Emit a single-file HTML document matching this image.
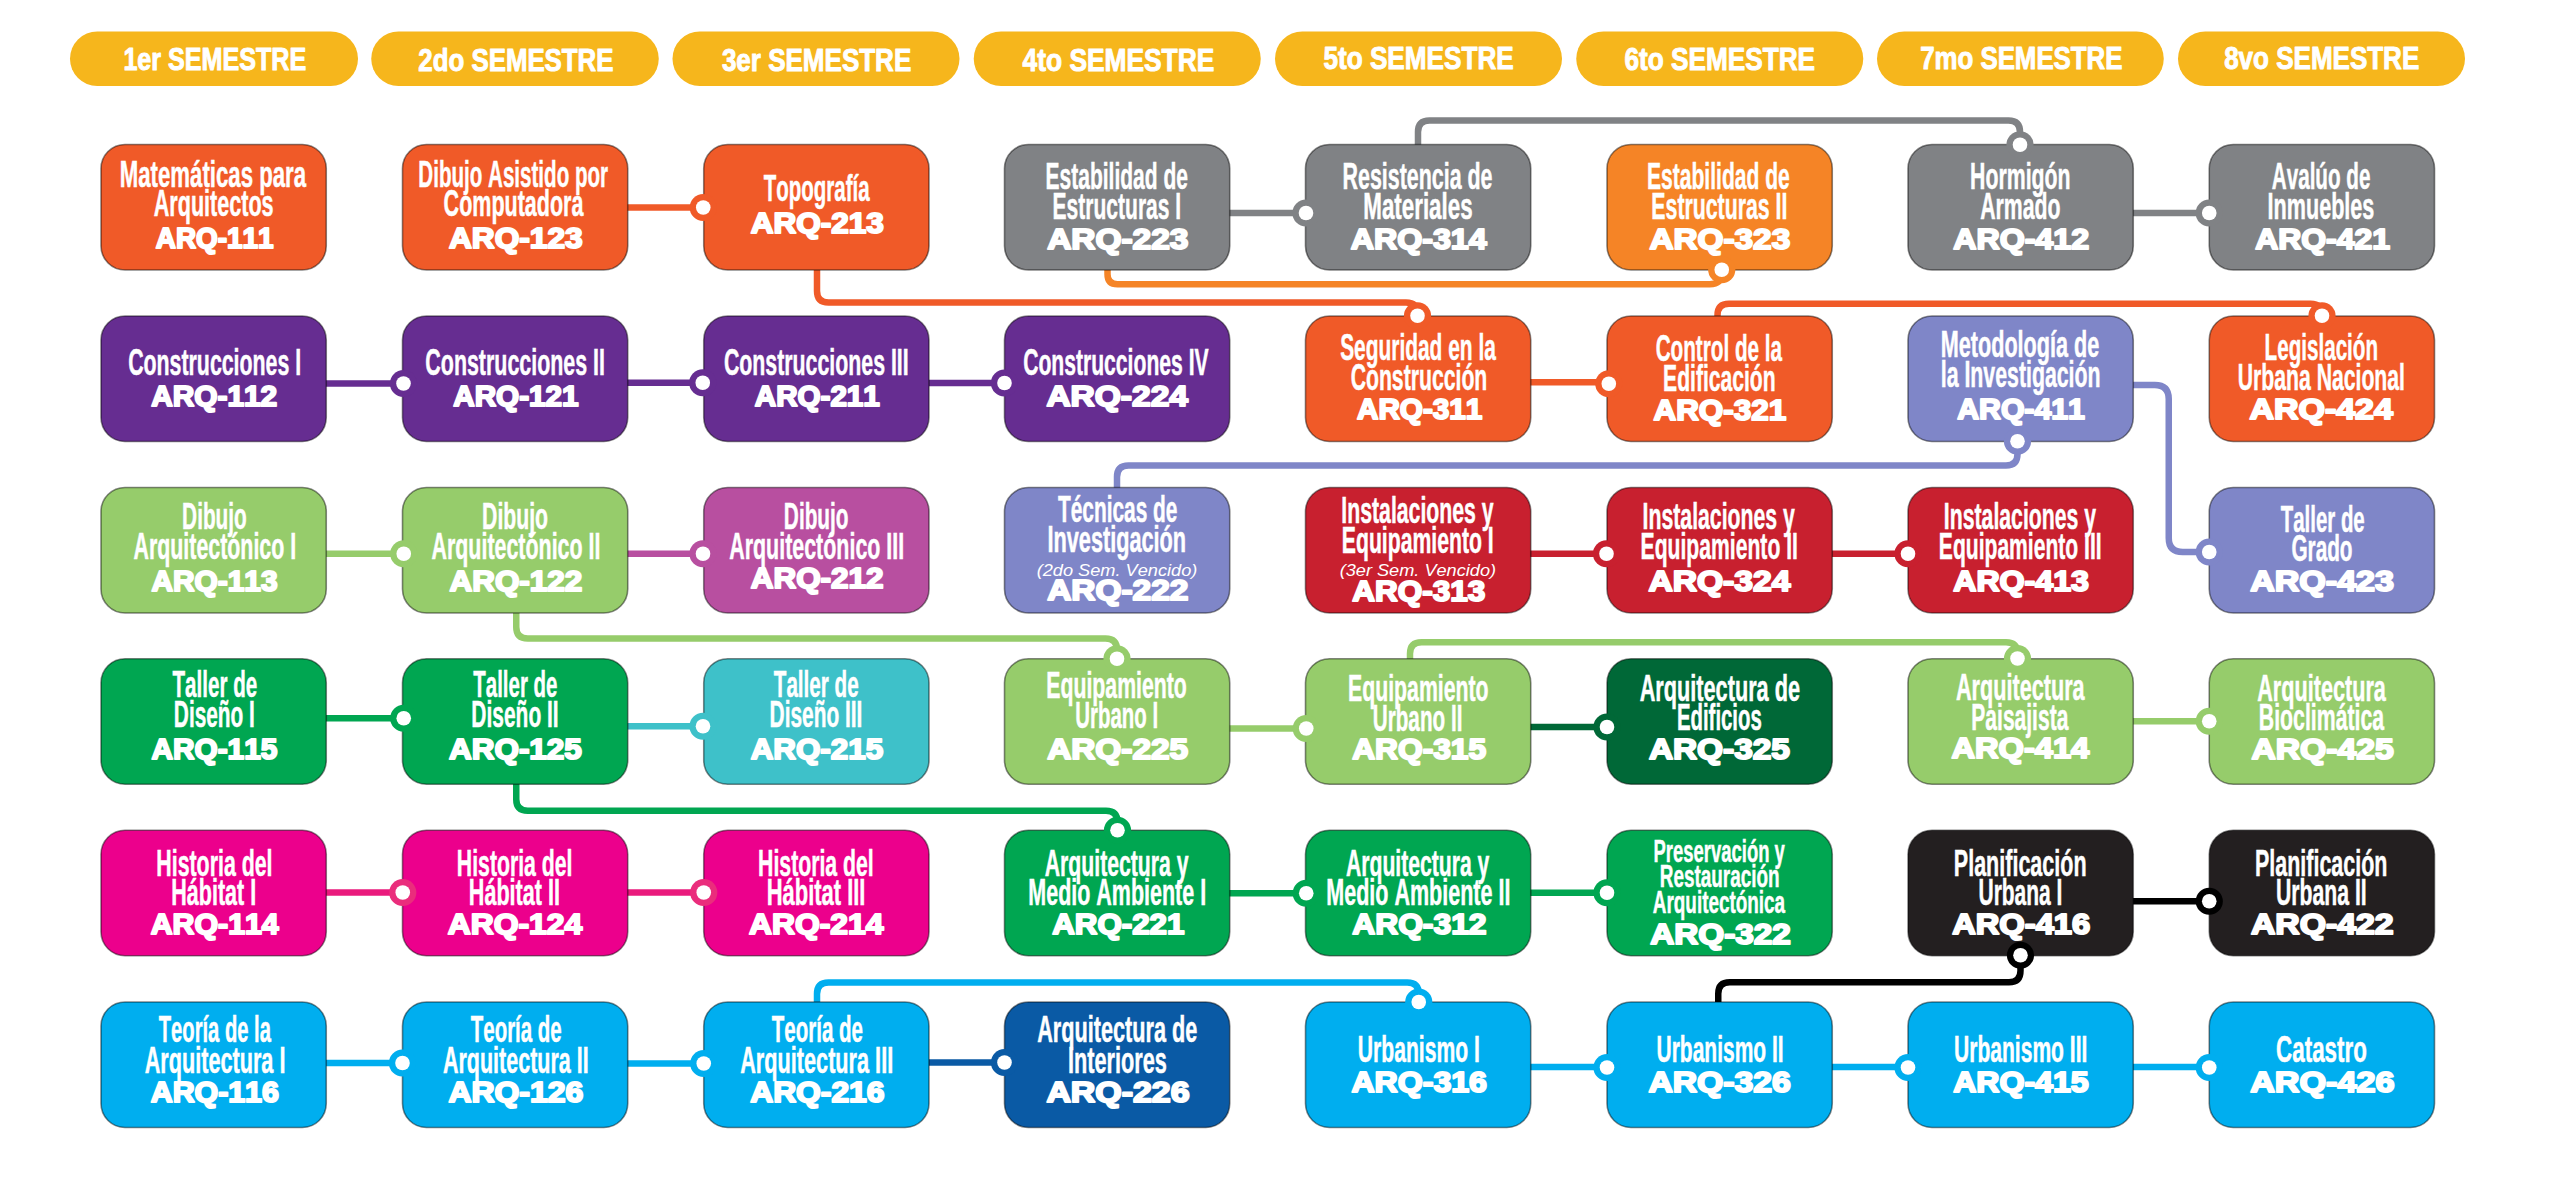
<!DOCTYPE html>
<html lang="es"><head><meta charset="utf-8"><title>Malla curricular Arquitectura</title>
<style>html,body{margin:0;padding:0;background:#fff}body{width:2560px;height:1186px;overflow:hidden}svg{display:block}text{font-family:"Liberation Sans",Arial,sans-serif;fill:#fff;font-kerning:none}.n{font-weight:700;font-size:36.3px;stroke:#fff;stroke-width:0.5px}.s{font-weight:700;font-size:31.8px;stroke:#fff;stroke-width:0.5px}.c{font-weight:700;font-size:28.9px;stroke:#fff;stroke-width:2.0px;stroke-linejoin:round}.i{font-style:italic;font-size:17.4px}.h{font-weight:700;font-size:31.6px;stroke:#fff;stroke-width:1.0px;stroke-linejoin:round}.ln{fill:none;stroke-width:6.5;stroke-linecap:butt;stroke-linejoin:round}.bx{stroke:#000;stroke-opacity:.46;stroke-width:1.6}</style></head><body>
<svg width="2560" height="1186" viewBox="0 0 2560 1186">
<rect width="2560" height="1186" fill="#fff"/>
<rect x="70" y="31.5" width="288" height="54.5" rx="27.25" fill="#f6b61c"/>
<text class="h" x="123.42" y="70.00" textLength="182.81" lengthAdjust="spacingAndGlyphs">1er SEMESTRE</text>
<rect x="371.25" y="31.5" width="287.5" height="54.5" rx="27.25" fill="#f6b61c"/>
<text class="h" x="418.35" y="71.00" textLength="195.15" lengthAdjust="spacingAndGlyphs">2do SEMESTRE</text>
<rect x="672.5" y="31.5" width="287.0" height="54.5" rx="27.25" fill="#f6b61c"/>
<text class="h" x="721.90" y="71.00" textLength="189.36" lengthAdjust="spacingAndGlyphs">3er SEMESTRE</text>
<rect x="973.75" y="31.5" width="287.0" height="54.5" rx="27.25" fill="#f6b61c"/>
<text class="h" x="1022.60" y="71.00" textLength="191.68" lengthAdjust="spacingAndGlyphs">4to SEMESTRE</text>
<rect x="1275" y="31.5" width="287" height="54.5" rx="27.25" fill="#f6b61c"/>
<text class="h" x="1323.45" y="69.00" textLength="190.33" lengthAdjust="spacingAndGlyphs">5to SEMESTRE</text>
<rect x="1576.25" y="31.5" width="287.0" height="54.5" rx="27.25" fill="#f6b61c"/>
<text class="h" x="1624.54" y="69.50" textLength="190.48" lengthAdjust="spacingAndGlyphs">6to SEMESTRE</text>
<rect x="1877" y="31.5" width="286.75" height="54.5" rx="27.25" fill="#f6b61c"/>
<text class="h" x="1920.14" y="69.00" textLength="202.37" lengthAdjust="spacingAndGlyphs">7mo SEMESTRE</text>
<rect x="2178" y="31.5" width="287" height="54.5" rx="27.25" fill="#f6b61c"/>
<text class="h" x="2224.17" y="69.00" textLength="195.09" lengthAdjust="spacingAndGlyphs">8vo SEMESTRE</text>
<path class="ln" stroke="#f05a28" d="M625.75,207.5H703.75"/>
<path class="ln" stroke="#808285" d="M1227.75,213H1305.5"/>
<path class="ln" stroke="#808285" d="M2131.25,213H2209.25"/>
<path class="ln" stroke="#662d91" d="M324.25,383.5H402.5"/>
<path class="ln" stroke="#662d91" d="M625.75,382.75H703.75"/>
<path class="ln" stroke="#662d91" d="M927.0,383H1004.5"/>
<path class="ln" stroke="#f05a28" d="M1528.75,382.25H1607"/>
<path class="ln" stroke="#96cc6b" d="M324.25,553.75H402.5"/>
<path class="ln" stroke="#b84fa0" d="M625.75,553.75H703.75"/>
<path class="ln" stroke="#c8202f" d="M1528.75,553.75H1607"/>
<path class="ln" stroke="#c8202f" d="M1830.25,553.75H1908"/>
<path class="ln" stroke="#00a651" d="M324.25,718.25H402.5"/>
<path class="ln" stroke="#3ec1c9" d="M625.75,726.25H703.75"/>
<path class="ln" stroke="#96cc6b" d="M1227.75,728.5H1305.5"/>
<path class="ln" stroke="#006837" d="M1528.75,727H1607"/>
<path class="ln" stroke="#96cc6b" d="M2131.25,721.25H2209.25"/>
<path class="ln" stroke="#ea1a7d" d="M324.25,892.5H402.5"/>
<path class="ln" stroke="#ea1a7d" d="M625.75,892.5H703.75"/>
<path class="ln" stroke="#00a651" d="M1227.75,893.25H1305.5"/>
<path class="ln" stroke="#00a651" d="M1528.75,892.75H1607"/>
<path class="ln" stroke="#000000" d="M2131.25,901.25H2209.25"/>
<path class="ln" stroke="#00aeef" d="M324.25,1063H402.5"/>
<path class="ln" stroke="#00aeef" d="M625.75,1063.5H703.75"/>
<path class="ln" stroke="#0a5aa5" d="M927.0,1062.5H1004.5"/>
<path class="ln" stroke="#00aeef" d="M1528.75,1067H1607"/>
<path class="ln" stroke="#00aeef" d="M1830.25,1067H1908"/>
<path class="ln" stroke="#00aeef" d="M2131.25,1067H2209.25"/>
<path class="ln" stroke="#f05a28" d="M817,266.5V291.0Q817,302.5 828.5,302.5H1406.0Q1417.5,302.5 1417.5,314.0V315.75"/>
<path class="ln" stroke="#f58426" d="M1107.5,266V274.25Q1107.5,284.25 1117.5,284.25H1709.75Q1721.75,284.25 1721.75,272.25V269.5"/>
<path class="ln" stroke="#808285" d="M1418,147.5V132.0Q1418,120.5 1429.5,120.5H2008.5Q2020,120.5 2020,132.0V144.75"/>
<path class="ln" stroke="#f05a28" d="M1717.5,319V315.25Q1717.5,303.75 1729.0,303.75H2310.5Q2322,303.75 2322,315.25V315.75"/>
<path class="ln" stroke="#7f86c8" d="M1117,490.5V477.0Q1117,465.5 1128.5,465.5H2006.0Q2017.5,465.5 2017.5,454.0V441.25"/>
<path class="ln" stroke="#7f86c8" d="M2130,385H2154.75Q2168.75,385 2168.75,399V538Q2168.75,552 2182.75,552H2209.25"/>
<path class="ln" stroke="#96cc6b" d="M516.25,609.5V627.1Q516.25,638.6 527.75,638.6H1105.5Q1117,638.6 1117,650.1V658.75"/>
<path class="ln" stroke="#00a651" d="M516.25,781.25V799.25Q516.25,810.75 527.75,810.75H1106.0Q1117.5,810.75 1117.5,822.25V830.25"/>
<path class="ln" stroke="#96cc6b" d="M1410,662V653.75Q1410,642.25 1421.5,642.25H2006.0Q2017.5,642.25 2017.5,653.75V658.5"/>
<path class="ln" stroke="#000000" d="M1718.25,1005V993.75Q1718.25,982.25 1729.75,982.25H2009.0Q2020.5,982.25 2020.5,970.75V955.25"/>
<path class="ln" stroke="#00aeef" d="M817,1005V994.0Q817,982.5 828.5,982.5H1407.25Q1418.75,982.5 1418.75,994.0V1002"/>
<rect class="bx" x="101" y="144.5" width="225.25" height="125.5" rx="24" fill="#f05a28"/>
<rect class="bx" x="402.5" y="144.5" width="225.25" height="125.5" rx="24" fill="#f05a28"/>
<rect class="bx" x="703.75" y="144.5" width="225.25" height="125.5" rx="24" fill="#f05a28"/>
<rect class="bx" x="1004.5" y="144.5" width="225.25" height="125.5" rx="24" fill="#808285"/>
<rect class="bx" x="1305.5" y="144.5" width="225.25" height="125.5" rx="24" fill="#808285"/>
<rect class="bx" x="1607" y="144.5" width="225.25" height="125.5" rx="24" fill="#f58426"/>
<rect class="bx" x="1908" y="144.5" width="225.25" height="125.5" rx="24" fill="#808285"/>
<rect class="bx" x="2209.25" y="144.5" width="225.25" height="125.5" rx="24" fill="#808285"/>
<rect class="bx" x="101" y="316" width="225.25" height="125.5" rx="24" fill="#662d91"/>
<rect class="bx" x="402.5" y="316" width="225.25" height="125.5" rx="24" fill="#662d91"/>
<rect class="bx" x="703.75" y="316" width="225.25" height="125.5" rx="24" fill="#662d91"/>
<rect class="bx" x="1004.5" y="316" width="225.25" height="125.5" rx="24" fill="#662d91"/>
<rect class="bx" x="1305.5" y="316" width="225.25" height="125.5" rx="24" fill="#f05a28"/>
<rect class="bx" x="1607" y="316" width="225.25" height="125.5" rx="24" fill="#f05a28"/>
<rect class="bx" x="1908" y="316" width="225.25" height="125.5" rx="24" fill="#7f86c8"/>
<rect class="bx" x="2209.25" y="316" width="225.25" height="125.5" rx="24" fill="#f05a28"/>
<rect class="bx" x="101" y="487.5" width="225.25" height="125.5" rx="24" fill="#96cc6b"/>
<rect class="bx" x="402.5" y="487.5" width="225.25" height="125.5" rx="24" fill="#96cc6b"/>
<rect class="bx" x="703.75" y="487.5" width="225.25" height="125.5" rx="24" fill="#b84fa0"/>
<rect class="bx" x="1004.5" y="487.5" width="225.25" height="125.5" rx="24" fill="#7f86c8"/>
<rect class="bx" x="1305.5" y="487.5" width="225.25" height="125.5" rx="24" fill="#c8202f"/>
<rect class="bx" x="1607" y="487.5" width="225.25" height="125.5" rx="24" fill="#c8202f"/>
<rect class="bx" x="1908" y="487.5" width="225.25" height="125.5" rx="24" fill="#c8202f"/>
<rect class="bx" x="2209.25" y="487.5" width="225.25" height="125.5" rx="24" fill="#7f86c8"/>
<rect class="bx" x="101" y="658.75" width="225.25" height="125.5" rx="24" fill="#00a651"/>
<rect class="bx" x="402.5" y="658.75" width="225.25" height="125.5" rx="24" fill="#00a651"/>
<rect class="bx" x="703.75" y="658.75" width="225.25" height="125.5" rx="24" fill="#3ec1c9"/>
<rect class="bx" x="1004.5" y="658.75" width="225.25" height="125.5" rx="24" fill="#96cc6b"/>
<rect class="bx" x="1305.5" y="658.75" width="225.25" height="125.5" rx="24" fill="#96cc6b"/>
<rect class="bx" x="1607" y="658.75" width="225.25" height="125.5" rx="24" fill="#006837"/>
<rect class="bx" x="1908" y="658.75" width="225.25" height="125.5" rx="24" fill="#96cc6b"/>
<rect class="bx" x="2209.25" y="658.75" width="225.25" height="125.5" rx="24" fill="#96cc6b"/>
<rect class="bx" x="101" y="830.25" width="225.25" height="125.5" rx="24" fill="#ec008c"/>
<rect class="bx" x="402.5" y="830.25" width="225.25" height="125.5" rx="24" fill="#ec008c"/>
<rect class="bx" x="703.75" y="830.25" width="225.25" height="125.5" rx="24" fill="#ec008c"/>
<rect class="bx" x="1004.5" y="830.25" width="225.25" height="125.5" rx="24" fill="#00a651"/>
<rect class="bx" x="1305.5" y="830.25" width="225.25" height="125.5" rx="24" fill="#00a651"/>
<rect class="bx" x="1607" y="830.25" width="225.25" height="125.5" rx="24" fill="#00a651"/>
<rect class="bx" x="1908" y="830.25" width="225.25" height="125.5" rx="24" fill="#231f20"/>
<rect class="bx" x="2209.25" y="830.25" width="225.25" height="125.5" rx="24" fill="#231f20"/>
<rect class="bx" x="101" y="1002" width="225.25" height="125.5" rx="24" fill="#00aeef"/>
<rect class="bx" x="402.5" y="1002" width="225.25" height="125.5" rx="24" fill="#00aeef"/>
<rect class="bx" x="703.75" y="1002" width="225.25" height="125.5" rx="24" fill="#00aeef"/>
<rect class="bx" x="1004.5" y="1002" width="225.25" height="125.5" rx="24" fill="#0a5aa5"/>
<rect class="bx" x="1305.5" y="1002" width="225.25" height="125.5" rx="24" fill="#00aeef"/>
<rect class="bx" x="1607" y="1002" width="225.25" height="125.5" rx="24" fill="#00aeef"/>
<rect class="bx" x="1908" y="1002" width="225.25" height="125.5" rx="24" fill="#00aeef"/>
<rect class="bx" x="2209.25" y="1002" width="225.25" height="125.5" rx="24" fill="#00aeef"/>
<circle cx="703.25" cy="207.5" r="13.6" fill="#f05a28"/><circle cx="703.25" cy="207.5" r="7.3" fill="#fff"/>
<circle cx="1306" cy="213" r="13.6" fill="#808285"/><circle cx="1306" cy="213" r="7.3" fill="#fff"/>
<circle cx="2209.25" cy="213" r="13.6" fill="#808285"/><circle cx="2209.25" cy="213" r="7.3" fill="#fff"/>
<circle cx="403.5" cy="383.5" r="13.6" fill="#662d91"/><circle cx="403.5" cy="383.5" r="7.3" fill="#fff"/>
<circle cx="702.75" cy="382.75" r="13.6" fill="#662d91"/><circle cx="702.75" cy="382.75" r="7.3" fill="#fff"/>
<circle cx="1004.5" cy="383" r="13.6" fill="#662d91"/><circle cx="1004.5" cy="383" r="7.3" fill="#fff"/>
<circle cx="1608.8" cy="383.75" r="13.6" fill="#f05a28"/><circle cx="1608.8" cy="383.75" r="7.3" fill="#fff"/>
<circle cx="403.75" cy="553.75" r="13.6" fill="#96cc6b"/><circle cx="403.75" cy="553.75" r="7.3" fill="#fff"/>
<circle cx="703" cy="553.75" r="13.6" fill="#b84fa0"/><circle cx="703" cy="553.75" r="7.3" fill="#fff"/>
<circle cx="1606.5" cy="553.75" r="13.6" fill="#c8202f"/><circle cx="1606.5" cy="553.75" r="7.3" fill="#fff"/>
<circle cx="1908" cy="553.75" r="13.6" fill="#c8202f"/><circle cx="1908" cy="553.75" r="7.3" fill="#fff"/>
<circle cx="403.75" cy="718.25" r="13.6" fill="#00a651"/><circle cx="403.75" cy="718.25" r="7.3" fill="#fff"/>
<circle cx="703" cy="726.25" r="13.6" fill="#3ec1c9"/><circle cx="703" cy="726.25" r="7.3" fill="#fff"/>
<circle cx="1306.25" cy="728.5" r="13.6" fill="#96cc6b"/><circle cx="1306.25" cy="728.5" r="7.3" fill="#fff"/>
<circle cx="1607" cy="727" r="13.6" fill="#006837"/><circle cx="1607" cy="727" r="7.3" fill="#fff"/>
<circle cx="2209.25" cy="721.25" r="13.6" fill="#96cc6b"/><circle cx="2209.25" cy="721.25" r="7.3" fill="#fff"/>
<circle cx="402.75" cy="892.5" r="13.6" fill="#ea2d7c"/><circle cx="402.75" cy="892.5" r="7.3" fill="#fff"/>
<circle cx="703.75" cy="892.5" r="13.6" fill="#ea2d7c"/><circle cx="703.75" cy="892.5" r="7.3" fill="#fff"/>
<circle cx="1306.25" cy="893.25" r="13.6" fill="#00a651"/><circle cx="1306.25" cy="893.25" r="7.3" fill="#fff"/>
<circle cx="1607" cy="892.75" r="13.6" fill="#00a651"/><circle cx="1607" cy="892.75" r="7.3" fill="#fff"/>
<circle cx="2209.25" cy="901.25" r="13.6" fill="#000000"/><circle cx="2209.25" cy="901.25" r="7.3" fill="#fff"/>
<circle cx="402.5" cy="1063" r="13.6" fill="#00aeef"/><circle cx="402.5" cy="1063" r="7.3" fill="#fff"/>
<circle cx="703.75" cy="1063.5" r="13.6" fill="#00aeef"/><circle cx="703.75" cy="1063.5" r="7.3" fill="#fff"/>
<circle cx="1004.5" cy="1062.5" r="13.6" fill="#0a5aa5"/><circle cx="1004.5" cy="1062.5" r="7.3" fill="#fff"/>
<circle cx="1607" cy="1067.5" r="13.6" fill="#00aeef"/><circle cx="1607" cy="1067.5" r="7.3" fill="#fff"/>
<circle cx="1908" cy="1067.5" r="13.6" fill="#00aeef"/><circle cx="1908" cy="1067.5" r="7.3" fill="#fff"/>
<circle cx="2209.25" cy="1067.5" r="13.6" fill="#00aeef"/><circle cx="2209.25" cy="1067.5" r="7.3" fill="#fff"/>
<circle cx="1417.5" cy="315.75" r="13.6" fill="#f05a28"/><circle cx="1417.5" cy="315.75" r="7.3" fill="#fff"/>
<circle cx="1721.75" cy="269.75" r="13.6" fill="#f58426"/><circle cx="1721.75" cy="269.75" r="7.3" fill="#fff"/>
<circle cx="2020" cy="144.75" r="13.6" fill="#808285"/><circle cx="2020" cy="144.75" r="7.3" fill="#fff"/>
<circle cx="2322" cy="315.75" r="13.6" fill="#f05a28"/><circle cx="2322" cy="315.75" r="7.3" fill="#fff"/>
<circle cx="2017.5" cy="441.25" r="13.6" fill="#7f86c8"/><circle cx="2017.5" cy="441.25" r="7.3" fill="#fff"/>
<circle cx="2209.25" cy="552" r="13.6" fill="#7f86c8"/><circle cx="2209.25" cy="552" r="7.3" fill="#fff"/>
<circle cx="1117" cy="658.75" r="13.6" fill="#96cc6b"/><circle cx="1117" cy="658.75" r="7.3" fill="#fff"/>
<circle cx="1117.5" cy="830.25" r="13.6" fill="#00a651"/><circle cx="1117.5" cy="830.25" r="7.3" fill="#fff"/>
<circle cx="2017.5" cy="658.5" r="13.6" fill="#96cc6b"/><circle cx="2017.5" cy="658.5" r="7.3" fill="#fff"/>
<circle cx="2020.5" cy="955.25" r="13.6" fill="#000000"/><circle cx="2020.5" cy="955.25" r="7.3" fill="#fff"/>
<circle cx="1418.75" cy="1002" r="13.6" fill="#00aeef"/><circle cx="1418.75" cy="1002" r="7.3" fill="#fff"/>
<text class="n" x="119.76" y="186.75" textLength="186.34" lengthAdjust="spacingAndGlyphs">Matemáticas para</text>
<text class="n" x="153.71" y="215.75" textLength="119.92" lengthAdjust="spacingAndGlyphs">Arquitectos</text>
<text class="c" x="155.81" y="248.25" textLength="117.72" lengthAdjust="spacingAndGlyphs">ARQ-111</text>
<text class="n" x="418.37" y="186.75" textLength="189.69" lengthAdjust="spacingAndGlyphs">Dibujo Asistido por</text>
<text class="n" x="443.62" y="216.00" textLength="139.75" lengthAdjust="spacingAndGlyphs">Computadora</text>
<text class="c" x="448.96" y="248.25" textLength="133.68" lengthAdjust="spacingAndGlyphs">ARQ-123</text>
<text class="n" x="763.77" y="201.00" textLength="105.85" lengthAdjust="spacingAndGlyphs">Topografía</text>
<text class="c" x="750.71" y="232.75" textLength="133.17" lengthAdjust="spacingAndGlyphs">ARQ-213</text>
<text class="n" x="1045.60" y="189.25" textLength="142.37" lengthAdjust="spacingAndGlyphs">Estabilidad de</text>
<text class="n" x="1052.59" y="219.25" textLength="128.56" lengthAdjust="spacingAndGlyphs">Estructuras I</text>
<text class="c" x="1047.17" y="248.50" textLength="141.29" lengthAdjust="spacingAndGlyphs">ARQ-223</text>
<text class="n" x="1342.57" y="189.00" textLength="149.91" lengthAdjust="spacingAndGlyphs">Resistencia de</text>
<text class="n" x="1363.25" y="219.25" textLength="109.41" lengthAdjust="spacingAndGlyphs">Materiales</text>
<text class="c" x="1350.70" y="248.50" textLength="135.97" lengthAdjust="spacingAndGlyphs">ARQ-314</text>
<text class="n" x="1647.09" y="189.00" textLength="142.63" lengthAdjust="spacingAndGlyphs">Estabilidad de</text>
<text class="n" x="1651.33" y="219.25" textLength="136.10" lengthAdjust="spacingAndGlyphs">Estructuras II</text>
<text class="c" x="1649.42" y="248.50" textLength="140.78" lengthAdjust="spacingAndGlyphs">ARQ-323</text>
<text class="n" x="1970.08" y="189.00" textLength="100.49" lengthAdjust="spacingAndGlyphs">Hormigón</text>
<text class="n" x="1980.22" y="219.25" textLength="80.36" lengthAdjust="spacingAndGlyphs">Armado</text>
<text class="c" x="1953.20" y="248.50" textLength="135.84" lengthAdjust="spacingAndGlyphs">ARQ-412</text>
<text class="n" x="2271.74" y="189.00" textLength="98.72" lengthAdjust="spacingAndGlyphs">Avalúo de</text>
<text class="n" x="2267.56" y="219.25" textLength="106.83" lengthAdjust="spacingAndGlyphs">Inmuebles</text>
<text class="c" x="2255.21" y="248.50" textLength="134.68" lengthAdjust="spacingAndGlyphs">ARQ-421</text>
<text class="n" x="128.13" y="374.75" textLength="173.05" lengthAdjust="spacingAndGlyphs">Construcciones I</text>
<text class="c" x="151.26" y="406.00" textLength="125.94" lengthAdjust="spacingAndGlyphs">ARQ-112</text>
<text class="n" x="425.37" y="374.75" textLength="179.56" lengthAdjust="spacingAndGlyphs">Construcciones II</text>
<text class="c" x="453.26" y="406.00" textLength="125.31" lengthAdjust="spacingAndGlyphs">ARQ-121</text>
<text class="n" x="723.88" y="374.75" textLength="184.80" lengthAdjust="spacingAndGlyphs">Construcciones III</text>
<text class="c" x="754.76" y="406.00" textLength="125.06" lengthAdjust="spacingAndGlyphs">ARQ-211</text>
<text class="n" x="1023.13" y="374.75" textLength="185.51" lengthAdjust="spacingAndGlyphs">Construcciones IV</text>
<text class="c" x="1046.42" y="406.00" textLength="141.51" lengthAdjust="spacingAndGlyphs">ARQ-224</text>
<text class="n" x="1340.15" y="359.75" textLength="155.72" lengthAdjust="spacingAndGlyphs">Seguridad en la</text>
<text class="n" x="1350.63" y="389.75" textLength="136.69" lengthAdjust="spacingAndGlyphs">Construcción</text>
<text class="c" x="1357.01" y="419.00" textLength="125.31" lengthAdjust="spacingAndGlyphs">ARQ-311</text>
<text class="n" x="1655.65" y="360.75" textLength="126.47" lengthAdjust="spacingAndGlyphs">Control de la</text>
<text class="n" x="1663.09" y="390.75" textLength="112.47" lengthAdjust="spacingAndGlyphs">Edificación</text>
<text class="c" x="1653.47" y="419.50" textLength="132.66" lengthAdjust="spacingAndGlyphs">ARQ-321</text>
<text class="n" x="1940.80" y="357.25" textLength="158.43" lengthAdjust="spacingAndGlyphs">Metodología de</text>
<text class="n" x="1940.76" y="386.75" textLength="159.81" lengthAdjust="spacingAndGlyphs">la Investigación</text>
<text class="c" x="1957.25" y="419.00" textLength="127.59" lengthAdjust="spacingAndGlyphs">ARQ-411</text>
<text class="n" x="2264.62" y="359.75" textLength="113.41" lengthAdjust="spacingAndGlyphs">Legislación</text>
<text class="n" x="2237.73" y="389.75" textLength="167.27" lengthAdjust="spacingAndGlyphs">Urbana Nacional</text>
<text class="c" x="2249.40" y="419.00" textLength="143.53" lengthAdjust="spacingAndGlyphs">ARQ-424</text>
<text class="n" x="182.11" y="528.50" textLength="64.70" lengthAdjust="spacingAndGlyphs">Dibujo</text>
<text class="n" x="133.47" y="559.00" textLength="162.71" lengthAdjust="spacingAndGlyphs">Arquitectónico I</text>
<text class="c" x="151.51" y="591.00" textLength="126.07" lengthAdjust="spacingAndGlyphs">ARQ-113</text>
<text class="n" x="482.08" y="528.50" textLength="66.00" lengthAdjust="spacingAndGlyphs">Dibujo</text>
<text class="n" x="431.47" y="559.00" textLength="168.97" lengthAdjust="spacingAndGlyphs">Arquitectónico II</text>
<text class="c" x="449.47" y="591.00" textLength="132.79" lengthAdjust="spacingAndGlyphs">ARQ-122</text>
<text class="n" x="783.86" y="528.50" textLength="64.70" lengthAdjust="spacingAndGlyphs">Dibujo</text>
<text class="n" x="729.22" y="558.50" textLength="174.97" lengthAdjust="spacingAndGlyphs">Arquitectónico III</text>
<text class="c" x="750.72" y="588.00" textLength="132.79" lengthAdjust="spacingAndGlyphs">ARQ-212</text>
<text class="n" x="1058.02" y="522.25" textLength="119.45" lengthAdjust="spacingAndGlyphs">Técnicas de</text>
<text class="n" x="1047.55" y="552.25" textLength="138.54" lengthAdjust="spacingAndGlyphs">Investigación</text>
<text class="i" x="1036.65" y="575.50" textLength="160.69" lengthAdjust="spacingAndGlyphs">(2do Sem. Vencido)</text>
<text class="c" x="1047.17" y="600.25" textLength="141.17" lengthAdjust="spacingAndGlyphs">ARQ-222</text>
<text class="n" x="1341.33" y="523.00" textLength="152.28" lengthAdjust="spacingAndGlyphs">Instalaciones y</text>
<text class="n" x="1341.83" y="552.75" textLength="151.83" lengthAdjust="spacingAndGlyphs">Equipamiento I</text>
<text class="i" x="1339.65" y="575.75" textLength="156.43" lengthAdjust="spacingAndGlyphs">(3er Sem. Vencido)</text>
<text class="c" x="1352.22" y="600.75" textLength="132.92" lengthAdjust="spacingAndGlyphs">ARQ-313</text>
<text class="n" x="1642.58" y="529.25" textLength="152.28" lengthAdjust="spacingAndGlyphs">Instalaciones y</text>
<text class="n" x="1640.59" y="559.00" textLength="157.33" lengthAdjust="spacingAndGlyphs">Equipamiento II</text>
<text class="c" x="1648.41" y="591.00" textLength="142.02" lengthAdjust="spacingAndGlyphs">ARQ-324</text>
<text class="n" x="1943.83" y="529.25" textLength="152.28" lengthAdjust="spacingAndGlyphs">Instalaciones y</text>
<text class="n" x="1938.84" y="559.00" textLength="162.82" lengthAdjust="spacingAndGlyphs">Equipamiento III</text>
<text class="c" x="1953.20" y="591.00" textLength="135.71" lengthAdjust="spacingAndGlyphs">ARQ-413</text>
<text class="n" x="2280.77" y="531.50" textLength="83.93" lengthAdjust="spacingAndGlyphs">Taller de</text>
<text class="n" x="2291.40" y="561.00" textLength="61.16" lengthAdjust="spacingAndGlyphs">Grado</text>
<text class="c" x="2250.15" y="591.00" textLength="143.83" lengthAdjust="spacingAndGlyphs">ARQ-423</text>
<text class="n" x="172.52" y="696.75" textLength="84.69" lengthAdjust="spacingAndGlyphs">Taller de</text>
<text class="n" x="173.86" y="727.25" textLength="81.04" lengthAdjust="spacingAndGlyphs">Diseño I</text>
<text class="c" x="151.51" y="759.00" textLength="125.82" lengthAdjust="spacingAndGlyphs">ARQ-115</text>
<text class="n" x="473.27" y="696.75" textLength="84.18" lengthAdjust="spacingAndGlyphs">Taller de</text>
<text class="n" x="471.35" y="727.25" textLength="87.30" lengthAdjust="spacingAndGlyphs">Diseño II</text>
<text class="c" x="448.97" y="759.00" textLength="132.91" lengthAdjust="spacingAndGlyphs">ARQ-125</text>
<text class="n" x="773.77" y="696.75" textLength="84.94" lengthAdjust="spacingAndGlyphs">Taller de</text>
<text class="n" x="769.60" y="727.25" textLength="92.79" lengthAdjust="spacingAndGlyphs">Diseño III</text>
<text class="c" x="750.72" y="759.00" textLength="132.40" lengthAdjust="spacingAndGlyphs">ARQ-215</text>
<text class="n" x="1046.33" y="697.75" textLength="140.50" lengthAdjust="spacingAndGlyphs">Equipamiento</text>
<text class="n" x="1075.27" y="727.75" textLength="82.84" lengthAdjust="spacingAndGlyphs">Urbano I</text>
<text class="c" x="1047.17" y="759.00" textLength="141.01" lengthAdjust="spacingAndGlyphs">ARQ-225</text>
<text class="n" x="1348.08" y="700.75" textLength="140.50" lengthAdjust="spacingAndGlyphs">Equipamiento</text>
<text class="n" x="1372.76" y="731.00" textLength="89.63" lengthAdjust="spacingAndGlyphs">Urbano II</text>
<text class="c" x="1352.21" y="759.00" textLength="133.92" lengthAdjust="spacingAndGlyphs">ARQ-315</text>
<text class="n" x="1639.71" y="700.50" textLength="160.28" lengthAdjust="spacingAndGlyphs">Arquitectura de</text>
<text class="n" x="1676.89" y="730.25" textLength="84.95" lengthAdjust="spacingAndGlyphs">Edificios</text>
<text class="c" x="1648.92" y="759.00" textLength="141.01" lengthAdjust="spacingAndGlyphs">ARQ-325</text>
<text class="n" x="1955.96" y="699.75" textLength="128.65" lengthAdjust="spacingAndGlyphs">Arquitectura</text>
<text class="n" x="1971.34" y="729.75" textLength="97.02" lengthAdjust="spacingAndGlyphs">Paisajista</text>
<text class="c" x="1951.44" y="757.75" textLength="137.74" lengthAdjust="spacingAndGlyphs">ARQ-414</text>
<text class="n" x="2257.21" y="700.50" textLength="128.65" lengthAdjust="spacingAndGlyphs">Arquitectura</text>
<text class="n" x="2258.83" y="730.25" textLength="125.29" lengthAdjust="spacingAndGlyphs">Bioclimática</text>
<text class="c" x="2251.41" y="759.00" textLength="142.28" lengthAdjust="spacingAndGlyphs">ARQ-425</text>
<text class="n" x="156.32" y="875.50" textLength="116.19" lengthAdjust="spacingAndGlyphs">Historia del</text>
<text class="n" x="171.31" y="905.25" textLength="84.88" lengthAdjust="spacingAndGlyphs">Hábitat I</text>
<text class="c" x="150.75" y="934.00" textLength="127.92" lengthAdjust="spacingAndGlyphs">ARQ-114</text>
<text class="n" x="456.83" y="875.50" textLength="115.67" lengthAdjust="spacingAndGlyphs">Historia del</text>
<text class="n" x="468.81" y="905.25" textLength="91.14" lengthAdjust="spacingAndGlyphs">Hábitat II</text>
<text class="c" x="447.71" y="934.00" textLength="134.46" lengthAdjust="spacingAndGlyphs">ARQ-124</text>
<text class="n" x="758.08" y="875.50" textLength="115.67" lengthAdjust="spacingAndGlyphs">Historia del</text>
<text class="n" x="766.78" y="905.25" textLength="98.68" lengthAdjust="spacingAndGlyphs">Hábitat III</text>
<text class="c" x="748.96" y="934.00" textLength="134.46" lengthAdjust="spacingAndGlyphs">ARQ-214</text>
<text class="n" x="1044.72" y="875.50" textLength="143.89" lengthAdjust="spacingAndGlyphs">Arquitectura y</text>
<text class="n" x="1028.31" y="905.25" textLength="177.87" lengthAdjust="spacingAndGlyphs">Medio Ambiente I</text>
<text class="c" x="1052.22" y="934.00" textLength="132.15" lengthAdjust="spacingAndGlyphs">ARQ-221</text>
<text class="n" x="1345.97" y="875.50" textLength="143.39" lengthAdjust="spacingAndGlyphs">Arquitectura y</text>
<text class="n" x="1326.31" y="905.25" textLength="184.13" lengthAdjust="spacingAndGlyphs">Medio Ambiente II</text>
<text class="c" x="1352.21" y="934.00" textLength="134.32" lengthAdjust="spacingAndGlyphs">ARQ-312</text>
<text class="s" x="1653.52" y="861.75" textLength="131.33" lengthAdjust="spacingAndGlyphs">Preservación y</text>
<text class="s" x="1659.73" y="887.25" textLength="119.94" lengthAdjust="spacingAndGlyphs">Restauración</text>
<text class="s" x="1652.78" y="912.75" textLength="132.35" lengthAdjust="spacingAndGlyphs">Arquitectónica</text>
<text class="c" x="1650.17" y="943.50" textLength="140.66" lengthAdjust="spacingAndGlyphs">ARQ-322</text>
<text class="n" x="1953.81" y="875.50" textLength="132.77" lengthAdjust="spacingAndGlyphs">Planificación</text>
<text class="n" x="1978.49" y="905.25" textLength="83.91" lengthAdjust="spacingAndGlyphs">Urbana I</text>
<text class="c" x="1952.19" y="934.00" textLength="137.99" lengthAdjust="spacingAndGlyphs">ARQ-416</text>
<text class="n" x="2255.07" y="875.50" textLength="132.26" lengthAdjust="spacingAndGlyphs">Planificación</text>
<text class="n" x="2275.98" y="905.25" textLength="90.69" lengthAdjust="spacingAndGlyphs">Urbana II</text>
<text class="c" x="2250.91" y="934.00" textLength="142.69" lengthAdjust="spacingAndGlyphs">ARQ-422</text>
<text class="n" x="158.77" y="1042.25" textLength="112.10" lengthAdjust="spacingAndGlyphs">Teoría de la</text>
<text class="n" x="144.71" y="1072.75" textLength="140.74" lengthAdjust="spacingAndGlyphs">Arquitectura I</text>
<text class="c" x="150.74" y="1102.25" textLength="128.10" lengthAdjust="spacingAndGlyphs">ARQ-116</text>
<text class="n" x="470.77" y="1042.25" textLength="90.93" lengthAdjust="spacingAndGlyphs">Teoría de</text>
<text class="n" x="442.96" y="1072.75" textLength="145.72" lengthAdjust="spacingAndGlyphs">Arquitectura II</text>
<text class="c" x="448.46" y="1102.25" textLength="134.70" lengthAdjust="spacingAndGlyphs">ARQ-126</text>
<text class="n" x="771.77" y="1042.25" textLength="91.18" lengthAdjust="spacingAndGlyphs">Teoría de</text>
<text class="n" x="740.21" y="1072.75" textLength="152.99" lengthAdjust="spacingAndGlyphs">Arquitectura III</text>
<text class="c" x="750.21" y="1102.25" textLength="134.19" lengthAdjust="spacingAndGlyphs">ARQ-216</text>
<text class="n" x="1037.21" y="1042.25" textLength="160.03" lengthAdjust="spacingAndGlyphs">Arquitectura de</text>
<text class="n" x="1068.05" y="1072.75" textLength="98.84" lengthAdjust="spacingAndGlyphs">Interiores</text>
<text class="c" x="1046.41" y="1102.25" textLength="143.07" lengthAdjust="spacingAndGlyphs">ARQ-226</text>
<text class="n" x="1357.73" y="1061.75" textLength="122.18" lengthAdjust="spacingAndGlyphs">Urbanismo I</text>
<text class="c" x="1351.45" y="1091.50" textLength="135.46" lengthAdjust="spacingAndGlyphs">ARQ-316</text>
<text class="n" x="1656.49" y="1061.75" textLength="127.17" lengthAdjust="spacingAndGlyphs">Urbanismo II</text>
<text class="c" x="1648.41" y="1091.50" textLength="142.31" lengthAdjust="spacingAndGlyphs">ARQ-326</text>
<text class="n" x="1953.98" y="1061.75" textLength="133.42" lengthAdjust="spacingAndGlyphs">Urbanismo III</text>
<text class="c" x="1953.20" y="1091.50" textLength="135.44" lengthAdjust="spacingAndGlyphs">ARQ-415</text>
<text class="n" x="2276.08" y="1061.75" textLength="90.79" lengthAdjust="spacingAndGlyphs">Catastro</text>
<text class="c" x="2250.15" y="1091.50" textLength="144.34" lengthAdjust="spacingAndGlyphs">ARQ-426</text>
</svg></body></html>
